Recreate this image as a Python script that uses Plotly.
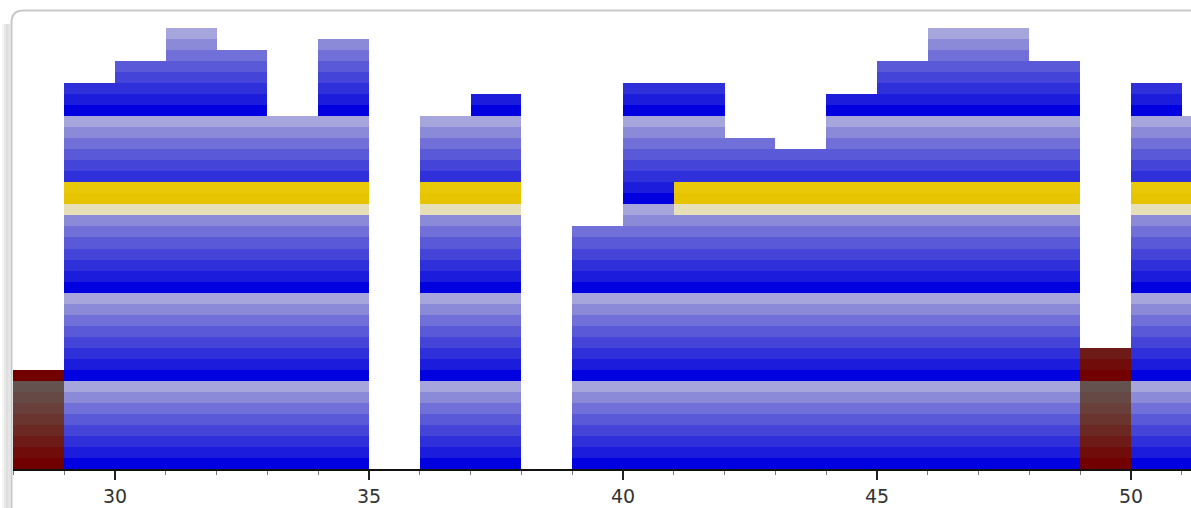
import math
import plotly.graph_objects as go

# ---------------- data ----------------
columns = list(range(28, 52))
blue_values = [0, 4.375, 4.625, 5.0, 4.75, 4.0, 4.875, 0, 4.0, 4.25, 0, 2.75,
               4.375, 4.375, 3.75, 3.625, 4.25, 4.625, 5.0, 5.0, 4.625, 0, 4.375, 4.0]
maroon_values = [1.125, 0, 0, 0, 0, 0, 0, 0, 0, 0, 0, 0,
                 0, 0, 0, 0, 0, 0, 0, 0, 0, 1.375, 0, 0]
highlighted = [False, True, True, True, True, True, True, False, True, True, False, False,
               False, True, True, True, True, True, True, True, True, False, True, True]
highlight_band = (2.875, 3.25)
tick_values = [30, 35, 40, 45, 50]
tick_labels = ["30", "35", "40", "45", "50"]

# ---------------- style ----------------
STRIPES = 8  # gradient bands per unit
blue_shades = ["#0000e0", "#1c1cdc", "#3030da", "#4444d8", "#5a5ad8",
               "#7070d8", "#8a8ad9", "#a6a6dc"]
maroon_shades = ["#720000", "#700c0a", "#6e1a16", "#6c2823", "#6a342f",
                 "#683f3a", "#664844", "#64524e"]
yellow_shades = ["#e6c400", "#e8c808", "#e8cd14", "#e8d020", "#e8d440",
                 "#e8d870", "#e8dc98", "#e6dfb8"]

W, H = 1191, 508
ML, MR, MT, MB = 13, 0, 11, 39
PX_PER_X = 50.8
PX_PER_Y = 88.2
plot_w = W - ML - MR
plot_h = H - MT - MB
x0 = 28 - 0.4 / PX_PER_X
x_range = [x0, x0 + plot_w / PX_PER_X]
y_range = [0, plot_h / PX_PER_Y]

# group stripe segments by color
segments = {}


def add_segments(col, value, shades, hl):
    n = math.ceil(value * STRIPES - 1e-9)
    for k in range(n):
        lo = k / STRIPES
        hi = min((k + 1) / STRIPES, value)
        s = k % STRIPES
        color = shades[s]
        if hl and lo >= highlight_band[0] - 1e-9 and hi <= highlight_band[1] + 1e-9:
            color = yellow_shades[s]
        segments.setdefault(color, ([], [], []))
        xs, ys, bs = segments[color]
        xs.append(col + 0.5)
        ys.append(hi - lo)
        bs.append(lo)


for c, bv, mv, hl in zip(columns, blue_values, maroon_values, highlighted):
    if bv > 0:
        add_segments(c, bv, blue_shades, hl)
    if mv > 0:
        add_segments(c, mv, maroon_shades, False)

fig = go.Figure()
for color, (xs, ys, bs) in segments.items():
    fig.add_trace(go.Bar(x=xs, y=ys, base=bs, width=1.0,
                         marker=dict(color=color, line=dict(width=0)),
                         showlegend=False, hoverinfo="skip"))


def px_x(px):
    return (px - ML) / plot_w


def px_y(py):
    return (H - MB - py) / plot_h


# frame: shadow + rounded border
shapes = []
for i, g in enumerate(["#f4f4f4", "#e8e8e8", "#dedede", "#e4e4e4"]):
    shapes.append(dict(type="rect", xref="paper", yref="paper",
                       x0=px_x(2 + 2 * i), x1=px_x(4 + 2 * i),
                       y0=px_y(H), y1=px_y(24), fillcolor=g, line=dict(width=0), layer="below"))
r = 12
fl, ft = 11.5, 10.5
path = (f"M {px_x(fl)},{px_y(H)} L {px_x(fl)},{px_y(ft + r)} "
        f"Q {px_x(fl)},{px_y(ft)} {px_x(fl + r)},{px_y(ft)} L {px_x(W + 5)},{px_y(ft)}")
shapes.append(dict(type="path", xref="paper", yref="paper", path=path,
                   line=dict(color="#c8c8c8", width=2)))

fig.update_layout(
    width=W, height=H,
    margin=dict(l=ML, r=MR, t=MT, b=MB),
    paper_bgcolor="white", plot_bgcolor="white",
    barmode="overlay", bargap=0,
    shapes=shapes,
    xaxis=dict(range=x_range, tickmode="array", tickvals=tick_values, ticktext=tick_labels,
               ticks="outside", ticklen=9, tickwidth=1.5, tickcolor="#222",
               minor=dict(dtick=1, tick0=0, ticks="outside", ticklen=4, tickwidth=1, tickcolor="#777"),
               showline=True, linecolor="#111", linewidth=1.5,
               showgrid=False, zeroline=False,
               tickfont=dict(family="DejaVu Sans", size=19, color="#333")),
    yaxis=dict(range=y_range, showticklabels=False, showgrid=False, zeroline=False,
               showline=False, ticks=""),
)

fig.write_html("out.html", config={"displayModeBar": False},
               post_script="document.body.style.margin='0';document.body.style.overflow='hidden';")
